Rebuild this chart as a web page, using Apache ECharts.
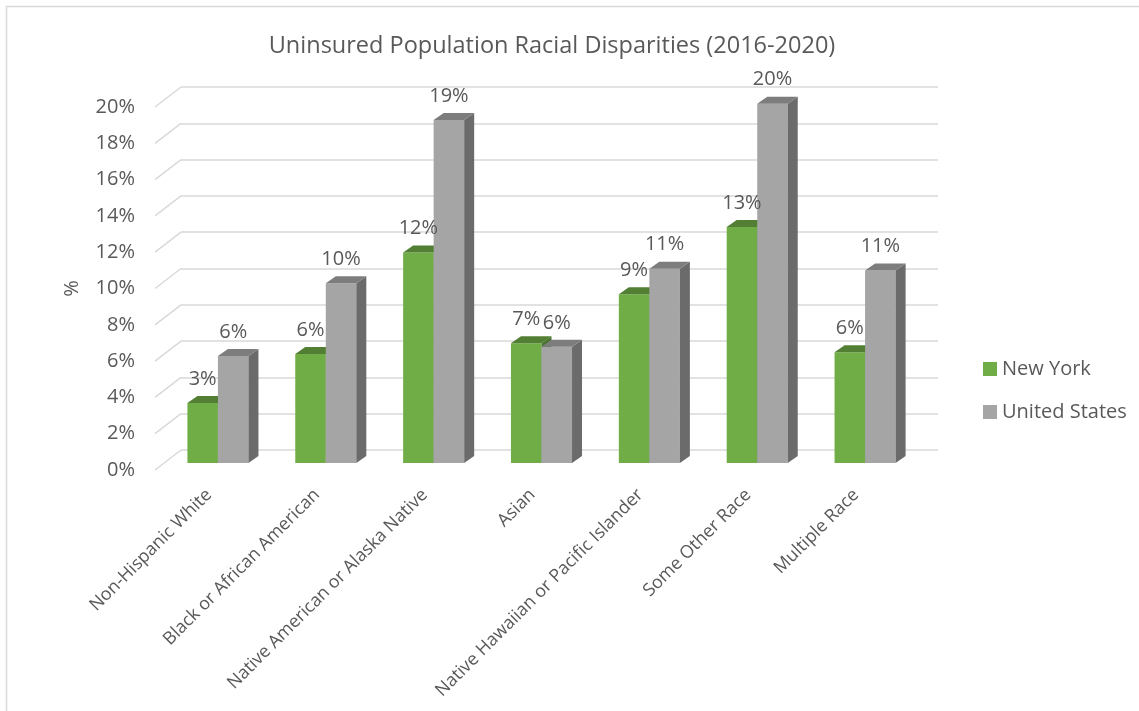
<!DOCTYPE html>
<html>
<head>
<meta charset="utf-8">
<script src="https://cdn.jsdelivr.net/npm/echarts@6/dist/echarts.min.js"></script>
<style>html,body{margin:0;padding:0;background:#fff;}#c{width:1139px;height:711px;}</style>
</head>
<body>
<div id="c"></div>
<script>
const categories = ['Non-Hispanic White','Black or African American','Native American or Alaska Native','Asian','Native Hawaiian or Pacific Islander','Some Other Race','Multiple Race'];
const seriesNames = ['New York','United States'];
const newYork = [3.3, 6.0, 11.6, 6.6, 9.3, 13.0, 6.1];
const unitedStates = [5.9, 9.9, 18.9, 6.4, 10.7, 19.8, 10.6];
const yTicks = [0, 2, 4, 6, 8, 10, 12, 14, 16, 18, 20];

const FONT = '"Open Sans", sans-serif';
const TXT = '#595959';
const GRID_C = '#d9d9d9';
const DX = 10, DY = -7;       // bar depth
const WX = 26, WY = -20;      // floor depth (front -> back wall)

const palettes = [
  {front: '#70AD47', top: '#527F33', side: '#4A7530'},
  {front: '#A5A5A5', top: '#7D7D7D', side: '#6B6B6B'}
];

function barRender(sIdx) {
  const pal = palettes[sIdx];
  return function (params, api) {
    const c = api.value(0), v = api.value(1);
    const top = api.coord([c, v]);
    const base = api.coord([c, 0]);
    const band = api.size([1, 0])[0];
    const w = band * 0.283;
    const x0 = sIdx === 0 ? top[0] - w : top[0];
    const yT = top[1], yB = base[1];
    return {
      type: 'group',
      children: [
        {type: 'rect', shape: {x: x0, y: yT, width: w, height: yB - yT}, style: {fill: pal.front}},
        {type: 'polygon', shape: {points: [[x0 + w, yT], [x0 + w + DX, yT + DY], [x0 + w + DX, yB + DY], [x0 + w, yB]]}, style: {fill: pal.side}},
        {type: 'polygon', shape: {points: [[x0, yT], [x0 + w, yT], [x0 + w + DX, yT + DY], [x0 + DX, yT + DY]]}, style: {fill: pal.top}}
      ]
    };
  };
}

function labelRender(params, api) {
  const c = api.value(0), v = api.value(1), s = api.value(2);
  const top = api.coord([c, v]);
  const band = api.size([1, 0])[0];
  const w = band * 0.283;
  const cx = s === 0 ? top[0] - w / 2 : top[0] + w / 2;
  return {
    type: 'text',
    style: {
      x: cx, y: top[1] - 24, text: Math.round(v) + '%',
      align: 'center', verticalAlign: 'middle',
      fill: TXT, font: '20px ' + FONT
    }
  };
}

// diagonal floor/side-wall lines: from back wall point to front plane
function diagRender(params, api) {
  const p = api.coord([0, api.value(0)]);
  return {
    type: 'line',
    shape: {x1: p[0], y1: p[1], x2: p[0] - WX, y2: p[1] - WY},
    style: {stroke: GRID_C, lineWidth: 1.5}
  };
}

const labelData = [];
newYork.forEach((v, i) => labelData.push([i, v, 0]));
unitedStates.forEach((v, i) => labelData.push([i, v, 1]));

const chart = echarts.init(document.getElementById('c'));
chart.setOption({
  animation: false,
  backgroundColor: '#fff',
  graphic: [{
    type: 'rect', silent: true, z: -10,
    shape: {x: 6.5, y: 6.5, width: 1300, height: 900},
    style: {fill: 'none', stroke: GRID_C, lineWidth: 1.5}
  }],
  title: {
    text: 'Uninsured Population Racial Disparities (2016-2020)',
    left: 547, top: 29, textAlign: 'center',
    textStyle: {fontFamily: FONT, fontSize: 23.5, fontWeight: 'normal', color: TXT}
  },
  legend: {
    orient: 'vertical', left: 978, top: 354,
    itemWidth: 14, itemHeight: 14, itemGap: 23,
    icon: 'rect',
    data: seriesNames,
    textStyle: {fontFamily: FONT, fontSize: 20, color: TXT}
  },
  grid: [
    {left: 164, top: 100, width: 755, height: 363},   // bar plane
    {left: 155, top: 107, width: 755, height: 363},   // front plane (labels)
    {left: 181, top: 87, width: 757, height: 363}     // back wall
  ],
  xAxis: [
    {type: 'category', gridIndex: 0, data: categories, show: false},
    {type: 'category', gridIndex: 1, data: categories,
     axisLine: {show: false}, axisTick: {show: false},
     axisLabel: {rotate: 45, margin: 22, interval: 0, fontFamily: FONT, fontSize: 17.8, color: TXT}},
    {type: 'value', gridIndex: 2, min: 0, max: 1, show: false}
  ],
  yAxis: [
    {type: 'value', gridIndex: 0, min: 0, max: 20, interval: 2, show: false},
    {type: 'value', gridIndex: 1, min: 0, max: 20, interval: 2,
     axisLine: {show: false}, axisTick: {show: false}, splitLine: {show: false},
     axisLabel: {formatter: '{value}%', margin: 20, fontFamily: FONT, fontSize: 20, color: TXT},
     name: '%', nameLocation: 'middle', nameGap: 73, nameRotate: 90,
     nameTextStyle: {fontFamily: FONT, fontSize: 20, color: TXT}},
    {type: 'value', gridIndex: 2, min: 0, max: 20, interval: 2,
     axisLine: {show: false}, axisTick: {show: false}, axisLabel: {show: false},
     splitLine: {show: true, lineStyle: {color: GRID_C, width: 1.5}}}
  ],
  series: [
    {type: 'custom', name: 'diag', xAxisIndex: 2, yAxisIndex: 2, silent: true, z: 1,
     data: yTicks.map(t => [t]), encode: {y: 0}, renderItem: diagRender},
    {type: 'custom', name: seriesNames[0], xAxisIndex: 0, yAxisIndex: 0, z: 2,
     itemStyle: {color: palettes[0].front},
     data: newYork.map((v, i) => [i, v]), encode: {x: 0, y: 1}, renderItem: barRender(0)},
    {type: 'custom', name: seriesNames[1], xAxisIndex: 0, yAxisIndex: 0, z: 3,
     itemStyle: {color: palettes[1].front},
     data: unitedStates.map((v, i) => [i, v]), encode: {x: 0, y: 1}, renderItem: barRender(1)},
    {type: 'custom', name: 'labels', xAxisIndex: 0, yAxisIndex: 0, z: 10, silent: true,
     data: labelData, encode: {x: 0, y: 1}, renderItem: labelRender}
  ]
});
</script>
</body>
</html>
